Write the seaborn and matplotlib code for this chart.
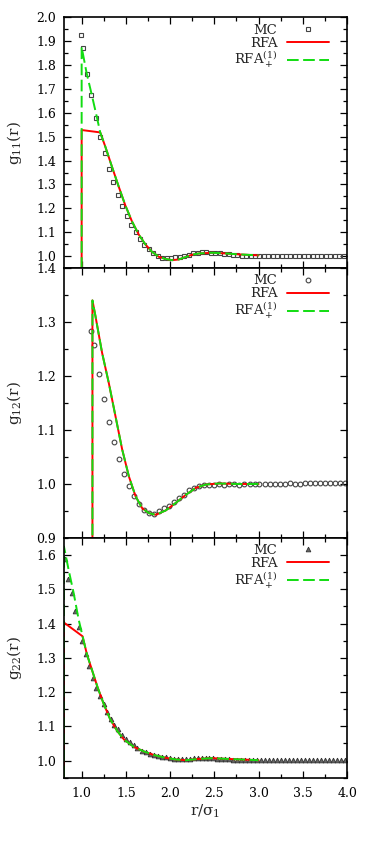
import matplotlib
matplotlib.use("Agg")
import matplotlib.pyplot as plt
from matplotlib.ticker import MultipleLocator, FormatStrFormatter
import seaborn as sns

# ---- g11 panel ----
mc11_x = [0.99, 1.01, 1.06, 1.11, 1.16, 1.21, 1.26, 1.31, 1.36, 1.41, 1.46, 1.51,
          1.56, 1.61, 1.66, 1.71, 1.76, 1.81, 1.86, 1.91, 1.96, 2.01, 2.06, 2.11,
          2.16, 2.21, 2.26, 2.31, 2.36, 2.41, 2.46, 2.51, 2.56, 2.61, 2.66, 2.71,
          2.76, 2.81, 2.86, 2.91, 2.96, 3.01, 3.06, 3.11, 3.16, 3.21, 3.26, 3.31,
          3.36, 3.41, 3.46, 3.51, 3.56, 3.61, 3.66, 3.71, 3.76, 3.81, 3.86, 3.91, 3.96]
mc11_y = [1.926, 1.871, 1.763, 1.676, 1.578, 1.497, 1.433, 1.365, 1.311, 1.257, 1.211, 1.169,
          1.130, 1.100, 1.073, 1.048, 1.028, 1.011, 1.002, 0.994, 0.993, 0.993, 0.995, 0.997,
          1.002, 1.006, 1.011, 1.015, 1.016, 1.016, 1.015, 1.014, 1.012, 1.010, 1.008, 1.006,
          1.004, 1.002, 1.001, 1.000, 0.999, 1.000, 0.999, 1.000, 1.000, 0.999, 1.000, 1.000,
          1.000, 0.999, 1.001, 1.000, 0.999, 1.000, 1.000, 1.000, 0.999, 1.000, 1.000, 0.999, 1.000]
rfa11_x = [1.0, 1.0, 1.21, 1.266, 1.341, 1.417, 1.493, 1.568, 1.644, 1.72, 1.795, 1.872,
           1.948, 2.023, 2.099, 2.175, 2.25, 2.326, 2.477, 2.629, 2.78, 3.0]
rfa11_y = [0.0, 1.528, 1.518, 1.460, 1.376, 1.293, 1.213, 1.146, 1.091, 1.049, 1.018, 0.997,
           0.988, 0.983, 0.986, 0.996, 1.006, 1.011, 1.014, 1.011, 1.007, 1.003]
plus11_x = [1.0, 1.0, 1.057, 1.114, 1.17, 1.21, 1.266, 1.341, 1.417, 1.493, 1.568, 1.644,
            1.72, 1.795, 1.872, 1.948, 2.023, 2.099, 2.175, 2.25, 2.326, 2.477, 2.629, 2.78, 3.0]
plus11_y = [0.0, 1.875, 1.765, 1.676, 1.585, 1.518, 1.460, 1.376, 1.293, 1.213, 1.146, 1.091,
            1.049, 1.018, 0.997, 0.988, 0.983, 0.986, 0.996, 1.006, 1.011, 1.014, 1.011, 1.007, 1.003]

# ---- g12 panel ----
mc12_x = [1.106, 1.144, 1.20, 1.258, 1.307, 1.364, 1.42, 1.477, 1.534, 1.59, 1.648, 1.705,
          1.761, 1.818, 1.875, 1.93, 1.99, 2.045, 2.10, 2.16, 2.216, 2.27, 2.33, 2.386,
          2.443, 2.50, 2.557, 2.614, 2.67, 2.727, 2.784, 2.84, 2.898, 2.955, 3.01, 3.068,
          3.125, 3.18, 3.239, 3.295, 3.352, 3.41, 3.466, 3.523, 3.58, 3.636, 3.693, 3.75,
          3.807, 3.864, 3.92, 3.977]
mc12_y = [1.283, 1.257, 1.204, 1.158, 1.115, 1.077, 1.047, 1.019, 0.996, 0.978, 0.963, 0.952,
          0.946, 0.945, 0.950, 0.955, 0.960, 0.967, 0.974, 0.980, 0.988, 0.993, 0.996, 0.998,
          0.999, 0.999, 1.000, 0.999, 1.000, 1.000, 0.999, 1.000, 1.000, 1.000, 1.000, 1.000,
          1.000, 1.000, 1.000, 1.000, 1.001, 1.000, 1.000, 1.001, 1.001, 1.001, 1.001, 1.001,
          1.002, 1.001, 1.001, 1.001]
rfa12_x = [1.122, 1.122, 1.156, 1.231, 1.307, 1.383, 1.458, 1.534, 1.61, 1.685, 1.761, 1.837,
           1.95, 2.064, 2.178, 2.292, 2.405, 2.557, 2.747, 3.0]
rfa12_y = [0.0, 1.340, 1.311, 1.243, 1.187, 1.125, 1.064, 1.014, 0.977, 0.955, 0.946, 0.943,
           0.951, 0.965, 0.980, 0.993, 0.999, 1.001, 1.000, 1.000]
plus12_x = [1.122, 1.122, 1.156, 1.231, 1.307, 1.383, 1.458, 1.534, 1.61, 1.685, 1.761, 1.837,
            1.95, 2.064, 2.178, 2.292, 2.405, 2.557, 2.747, 3.0]
plus12_y = [0.0, 1.340, 1.311, 1.243, 1.187, 1.125, 1.064, 1.014, 0.977, 0.955, 0.946, 0.943,
            0.951, 0.965, 0.980, 0.993, 0.999, 1.001, 1.000, 1.000]

# ---- g22 panel ----
mc22_x = [0.807, 0.845, 0.89, 0.92, 0.974, 1.004, 1.05, 1.087, 1.125, 1.163, 1.205, 1.25,
          1.288, 1.33, 1.371, 1.413, 1.458, 1.496, 1.542, 1.587, 1.63, 1.678, 1.724, 1.77,
          1.815, 1.86, 1.905, 1.95, 1.995, 2.04, 2.085, 2.13, 2.175, 2.22, 2.265, 2.31,
          2.355, 2.40, 2.445, 2.49, 2.535, 2.58, 2.625, 2.67, 2.715, 2.76, 2.805, 2.85,
          2.895, 2.94, 2.985, 3.03, 3.075, 3.12, 3.165, 3.21, 3.255, 3.30, 3.345, 3.39,
          3.435, 3.48, 3.525, 3.57, 3.615, 3.66, 3.705, 3.75, 3.795, 3.84, 3.885, 3.93, 3.975]
mc22_y = [1.588, 1.529, 1.488, 1.437, 1.391, 1.350, 1.310, 1.276, 1.242, 1.212, 1.188, 1.164,
          1.142, 1.122, 1.105, 1.091, 1.076, 1.063, 1.054, 1.044, 1.037, 1.029, 1.024, 1.019,
          1.016, 1.013, 1.011, 1.009, 1.007, 1.005, 1.004, 1.004, 1.004, 1.005, 1.006, 1.006,
          1.007, 1.007, 1.006, 1.006, 1.005, 1.005, 1.004, 1.004, 1.003, 1.003, 1.002, 1.002,
          1.002, 1.001, 1.001, 1.002, 1.002, 1.002, 1.001, 1.002, 1.002, 1.002, 1.002, 1.002,
          1.001, 1.002, 1.002, 1.002, 1.002, 1.002, 1.002, 1.002, 1.002, 1.002, 1.002, 1.002, 1.002]
rfa22_x = [0.8, 0.8, 1.01, 1.06, 1.12, 1.18, 1.25, 1.32, 1.40, 1.48, 1.59, 1.70, 1.82,
           1.95, 2.07, 2.18, 2.33, 2.48, 2.63, 2.82, 3.0]
rfa22_y = [0.0, 1.403, 1.363, 1.310, 1.262, 1.214, 1.165, 1.122, 1.087, 1.061, 1.040, 1.027,
           1.016, 1.008, 1.003, 1.001, 1.005, 1.007, 1.005, 1.003, 1.001]
plus22_x = [0.8, 0.8, 0.852, 0.909, 0.966, 1.03, 1.06, 1.12, 1.18, 1.25, 1.32, 1.40, 1.48,
            1.59, 1.70, 1.82, 1.95, 2.07, 2.18, 2.33, 2.48, 2.63, 2.82, 3.0]
plus22_y = [0.0, 1.625, 1.558, 1.490, 1.412, 1.342, 1.310, 1.262, 1.214, 1.165, 1.122, 1.087,
            1.061, 1.040, 1.027, 1.016, 1.008, 1.003, 1.001, 1.005, 1.007, 1.005, 1.003, 1.001]

RED = "#ff0000"
GREEN = "#11dd11"
GREY = "#444444"

sns.set_theme(style="ticks")
plt.rcParams.update({
    "font.family": ["DejaVu Serif"],
    "mathtext.fontset": "dejavuserif",
    "font.size": 9.5,
    "axes.linewidth": 1.2,
    "axes.edgecolor": "black",
    "xtick.color": "black",
    "ytick.color": "black",
    "xtick.labelsize": 9,
    "ytick.labelsize": 9,
})

fig = plt.figure(figsize=(3.74, 8.41), dpi=100)
ax1 = fig.add_axes([0.171, 0.6813, 0.757, 0.2981])
ax2 = fig.add_axes([0.171, 0.3603, 0.757, 0.3210])
ax3 = fig.add_axes([0.171, 0.0753, 0.757, 0.2850])

panels = [
    (ax1, mc11_x, mc11_y, dict(marker="s", mfc="none", mec=GREY, ms=3.3, mew=0.8),
     rfa11_x, rfa11_y, plus11_x, plus11_y, (0.95, 2.0), "g$_{11}$(r)", 0.975),
    (ax2, mc12_x, mc12_y, dict(marker="o", mfc="none", mec=GREY, ms=3.4, mew=0.8),
     rfa12_x, rfa12_y, plus12_x, plus12_y, (0.9, 1.4), "g$_{12}$(r)", 0.977),
    (ax3, mc22_x, mc22_y, dict(marker="^", mfc="#666666", mec="#333333", ms=3.4, mew=0.6),
     rfa22_x, rfa22_y, plus22_x, plus22_y, (0.95, 1.65), "g$_{22}$(r)", 0.975),
]

for ax, mx, my, mkw, rx, ry, px, py, ylim, ylab, ltop in panels:
    sns.lineplot(x=mx, y=my, ax=ax, linestyle="none", label="MC",
                 sort=False, estimator=None, **mkw)
    sns.lineplot(x=rx, y=ry, ax=ax, color=RED, lw=1.4, label="RFA",
                 sort=False, estimator=None)
    sns.lineplot(x=px, y=py, ax=ax, color=GREEN, lw=1.4, linestyle=(0, (6.0, 2.3)),
                 label="RFA$_+^{(1)}$", sort=False, estimator=None)
    ax.set_xlim(0.8, 4.0)
    ax.set_ylim(*ylim)
    ax.xaxis.set_major_locator(MultipleLocator(0.5))
    ax.xaxis.set_minor_locator(MultipleLocator(0.25))
    ax.yaxis.set_major_locator(MultipleLocator(0.1))
    ax.yaxis.set_minor_locator(MultipleLocator(0.05))
    ax.yaxis.set_major_formatter(FormatStrFormatter("%.1f"))
    ax.xaxis.set_major_formatter(FormatStrFormatter("%.1f"))
    ax.tick_params(which="both", direction="in", top=True, right=True, width=0.9)
    ax.tick_params(which="major", length=5)
    ax.tick_params(which="minor", length=3)
    ax.tick_params(axis="y", pad=5.5)
    ax.tick_params(axis="x", pad=6.5)
    ax.set_ylabel(ylab, fontsize=11)
    ax.yaxis.set_label_coords(-0.14, 0.5)
    ax.set_xlabel("")
    for s in ax.spines.values():
        s.set_linewidth(1.2)
    ax.legend(loc="upper right", bbox_to_anchor=(0.936, ltop), frameon=False,
              markerfirst=False, handlelength=3.2, handletextpad=0.7, borderpad=0,
              borderaxespad=0, labelspacing=0.0, numpoints=1, fontsize=9.5)

ax1.tick_params(axis="x", labelbottom=False)
ax2.tick_params(axis="x", labelbottom=False)
ax3.set_xlabel("r/σ$_1$", fontsize=11, labelpad=2)

fig.savefig("out.png", dpi=100)
